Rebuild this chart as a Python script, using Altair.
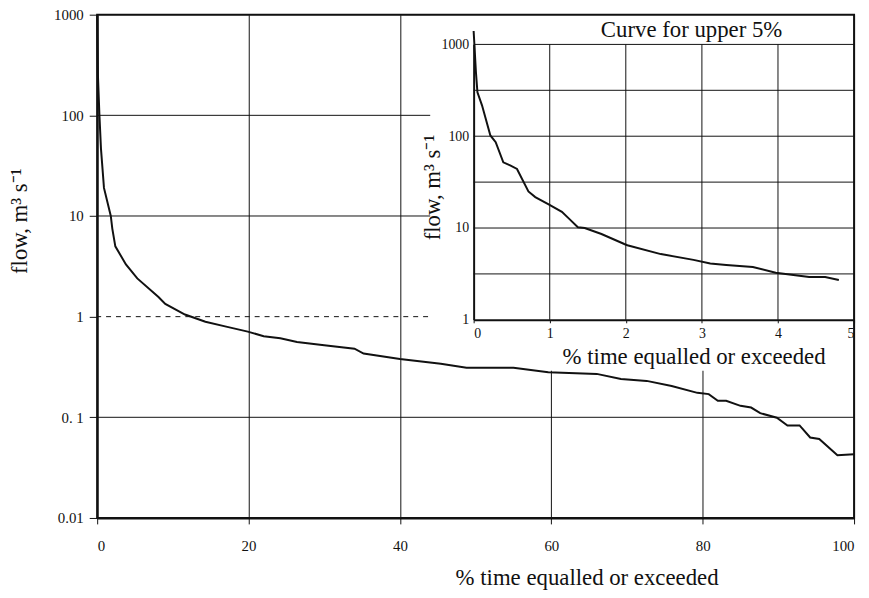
import altair as alt
import pandas as pd

# ---- data ----
main_pct = [0, 0.1, 0.3, 0.5, 0.9, 1.8, 2.0, 2.4, 3.8, 5.3, 8.1, 9.0, 11.6, 14.3,
            16.9, 19.9, 22.0, 24.2, 26.4, 30.0, 34.0, 35.2, 40.0, 45.4, 48.8, 55.0,
            59.6, 66.0, 69.2, 72.6, 75.9, 79.3, 80.8, 82.0, 83.1, 85.0, 86.4, 87.6,
            89.8, 91.2, 92.8, 94.2, 95.4, 97.8, 100]
main_flow = [1000, 250, 100, 47, 19, 10, 7.5, 5.0, 3.3, 2.4, 1.57, 1.34, 1.05, 0.89,
             0.80, 0.71, 0.64, 0.61, 0.56, 0.52, 0.48, 0.43, 0.38, 0.34, 0.31, 0.31,
             0.28, 0.27, 0.24, 0.23, 0.205, 0.175, 0.17, 0.146, 0.146, 0.13, 0.125, 0.11,
             0.099, 0.083, 0.083, 0.063, 0.061, 0.042, 0.043]

inset_pct = [0, 0.03, 0.05, 0.11, 0.22, 0.29, 0.39, 0.48, 0.57, 0.72, 0.81, 0.98,
             1.16, 1.26, 1.37, 1.46, 1.68, 1.98, 2.02, 2.46, 2.89, 3.11, 3.32, 3.67,
             3.97, 4.41, 4.62, 4.8]
inset_flow = [1400, 500, 300, 217, 102, 86, 52, 48, 44, 25, 21.7, 18.2,
              15, 12.5, 10.2, 10, 8.6, 6.7, 6.5, 5.2, 4.5, 4.1, 3.95, 3.76,
              3.25, 2.93, 2.93, 2.72]

main_x_ticks = [0, 20, 40, 60, 80, 100]
main_y_ticks = [0.01, 0.1, 1, 10, 100, 1000]
main_hgrid = [100, 10, 0.1]
main_dashed = [1]
inset_x_ticks = [0, 1, 2, 3, 4, 5]
inset_y_ticks = [1, 10, 100, 1000]
inset_hgrid = [10 ** 0.5, 10, 10 ** 1.5, 100, 10 ** 2.5, 1000]
inset_vgrid = [1, 2, 3, 4]

x_title = "% time equalled or exceeded"
y_title = "flow, m\u00b3 s\u207b\u00b9"
inset_title = "Curve for upper 5%"

FONT = "Liberation Serif"
W, H = 764, 508
INK = "#111111"
TITLE_SIZE = 23

xs_main = alt.Scale(domain=[0, 100], nice=False, zero=False)
ys_main = alt.Scale(type="log", domain=[0.01, 1000], nice=False)
xs_in = alt.Scale(domain=[0, 5], range=[380, W], nice=False, zero=False)
ys_in = alt.Scale(type="log", domain=[1, 1000], range=[308, 30], nice=False)

main_df = pd.DataFrame({"pct": main_pct, "flow": main_flow})
inset_df = pd.DataFrame({"pct": inset_pct, "flow": inset_flow})

# main horizontal grid
hgrid = alt.Chart(pd.DataFrame({"q": main_hgrid})).mark_rule(
    color=INK, strokeWidth=1).encode(y=alt.Y("q:Q", scale=ys_main, axis=None))
dashed = alt.Chart(pd.DataFrame({"q": main_dashed})).mark_rule(
    color=INK, strokeWidth=1, strokeDash=[5, 5]).encode(
    y=alt.Y("q:Q", scale=ys_main, axis=None))

# white panel behind the inset
panel = alt.Chart(pd.DataFrame({"x": [44], "x2": [100], "y": [0.29], "y2": [1000]})).mark_rect(
    fill="white").encode(
    x=alt.X("x:Q", scale=xs_main, axis=None), x2="x2:Q",
    y=alt.Y("y:Q", scale=ys_main, axis=None), y2="y2:Q")

# inset grid
in_h = alt.Chart(pd.DataFrame({"q": inset_hgrid, "a": 0, "b": 5})).mark_rule(
    color=INK, strokeWidth=1).encode(
    y=alt.Y("q:Q", scale=ys_in, axis=None),
    x=alt.X("a:Q", scale=xs_in, axis=None), x2="b:Q")
in_v = alt.Chart(pd.DataFrame({"t": inset_vgrid, "a": 1, "b": 1000})).mark_rule(
    color=INK, strokeWidth=1).encode(
    x=alt.X("t:Q", scale=xs_in, axis=None),
    y=alt.Y("a:Q", scale=ys_in, axis=None), y2="b:Q")

# inset caption
in_caption = alt.Chart(pd.DataFrame({"label": [inset_title]})).mark_text(
    font=FONT, fontSize=TITLE_SIZE, color=INK, align="center", baseline="middle").encode(
    text="label:N", x=alt.value(600), y=alt.value(16))

in_curve = alt.Chart(inset_df).mark_line(color=INK, strokeWidth=2).encode(
    x=alt.X("pct:Q", scale=xs_in, axis=alt.Axis(
        orient="bottom", offset=-200, values=inset_x_ticks, grid=False,
        tickSize=3, tickColor=INK, domainColor=INK, domainWidth=2,
        labelFont=FONT, labelFontSize=14, labelColor=INK, labelPadding=4,
        title=x_title, titleFont=FONT, titleFontSize=TITLE_SIZE, titleFontWeight="normal",
        titleColor=INK, titleX=602, titleY=37, titleBaseline="middle", titleAlign="center",
        zindex=2)),
    y=alt.Y("flow:Q", scale=ys_in, axis=alt.Axis(
        orient="left", offset=-380, values=inset_y_ticks, grid=False,
        tickSize=0, domainColor=INK, domainWidth=2, format="d",
        labelFont=FONT, labelFontSize=14, labelColor=INK, labelPadding=5,
        title=y_title, titleFont=FONT, titleFontSize=TITLE_SIZE, titleFontWeight="normal",
        titleColor=INK, titleX=-41, titleY=174, titleBaseline="middle", titleAlign="center",
        titleAngle=-90, zindex=2)),
)

main_curve = alt.Chart(main_df).mark_line(color=INK, strokeWidth=2).encode(
    x=alt.X("pct:Q", scale=xs_main, axis=alt.Axis(
        orient="bottom", values=main_x_ticks, grid=True, gridColor=INK, gridWidth=1,
        tickSize=6, tickColor=INK, domainColor=INK, domainWidth=2,
        labelFont=FONT, labelFontSize=15, labelColor=INK, labelPadding=15,
        title=x_title, titleFont=FONT, titleFontSize=TITLE_SIZE, titleFontWeight="normal",
        titleColor=INK, titleX=494, titleY=60, titleBaseline="middle", titleAlign="center",
        zindex=0)),
    y=alt.Y("flow:Q", scale=ys_main, axis=alt.Axis(
        orient="left", values=main_y_ticks, grid=False,
        tickSize=8, tickColor=INK, domainColor=INK, domainWidth=2,
        labelExpr="datum.value >= 1 ? format(datum.value, 'd') : (datum.value < 0.05 ? '0.01' : '0. 1')",
        labelFont=FONT, labelFontSize=15, labelColor=INK, labelPadding=6,
        title=y_title, titleFont=FONT, titleFontSize=TITLE_SIZE, titleFontWeight="normal",
        titleColor=INK, titleX=-78, titleY=208, titleBaseline="middle", titleAlign="center",
        titleAngle=-90, zindex=0)),
)

frame = alt.Chart(pd.DataFrame({"x": [0], "x2": [100], "y": [0.01], "y2": [1000]})).mark_rect(
    fillOpacity=0, stroke=INK, strokeWidth=2).encode(
    x=alt.X("x:Q", scale=xs_main, axis=None), x2="x2:Q",
    y=alt.Y("y:Q", scale=ys_main, axis=None), y2="y2:Q")

chart = alt.layer(hgrid, dashed, panel, in_h, in_v, in_curve, in_caption, main_curve, frame).resolve_scale(
    x="independent", y="independent").resolve_axis(x="independent", y="independent").properties(
    width=W, height=H,
    autosize=alt.AutoSizeParams(type="none"),
    padding={"left": 90, "top": 4, "right": 7, "bottom": 74},
).configure_view(stroke=None).configure_text(font=FONT).configure(background="white")

chart.save("out.html", embed_options={"renderer": "svg", "actions": False})
